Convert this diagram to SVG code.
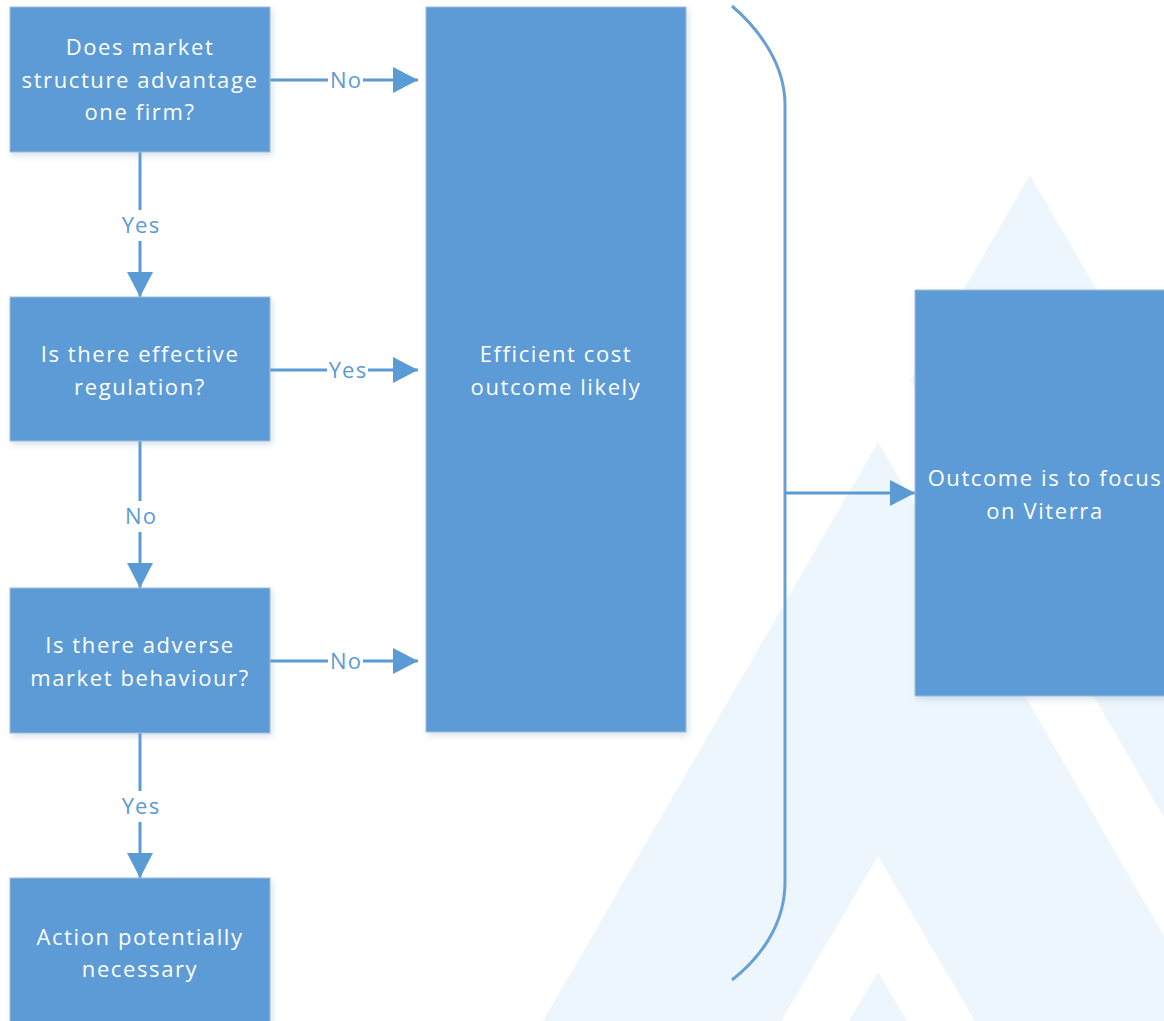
<svg xmlns="http://www.w3.org/2000/svg" width="1164" height="1021" viewBox="0 0 1164 1021">
  <style>
    .box { fill: #5B9BD5; stroke: #A3BDD8; stroke-width: 1; filter: url(#shadow); }
    .txt { fill: #FFFFFF; font-family: "Open Sans", "Liberation Sans", sans-serif; font-size: 22px; letter-spacing: 1.6px; text-anchor: middle; }
    .lbl { fill: #5B9BD5; font-family: "Open Sans", "Liberation Sans", sans-serif; font-size: 22px; letter-spacing: 1.2px; text-anchor: middle; }
    .conn { stroke: #5B9BD5; stroke-width: 3; fill: none; }
    .brace { stroke: #6A9FD4; stroke-width: 3; fill: none; }
    .gap { fill: #FFFFFF; }
    .wm { fill: #ECF6FC; }
    .wmw { fill: #FFFFFF; }
  </style>
  <defs>
    <filter id="shadow" x="-10%" y="-10%" width="125%" height="125%">
      <feDropShadow dx="2" dy="3" stdDeviation="3" flood-color="#7A9CC0" flood-opacity="0.3"/>
    </filter>
    <marker id="arrow" markerUnits="userSpaceOnUse" markerWidth="26" markerHeight="26" viewBox="0 0 26 26" refX="25" refY="13" orient="auto">
      <path d="M0,0 L25,13 L0,26 Z" fill="#5B9BD5"/>
    </marker>
  </defs>

  <rect width="1164" height="1021" fill="#FFFFFF"/>

  <g id="watermark">
    <polygon class="wm" points="1030,175 1521,1021 539,1021"/>
    <polygon class="wmw" points="911,381 1290,1035 300,1035"/>
    <polygon class="wm" points="878,442 1213,1021 543,1021"/>
    <polygon class="wmw" points="878,856 975,1021 781,1021"/>
    <polygon class="wm" points="878,972 907,1021 849,1021"/>
  </g>

  <g id="connectors">
    <line class="conn" x1="270" y1="80" x2="418" y2="80" marker-end="url(#arrow)"/>
    <line class="conn" x1="140" y1="152" x2="140" y2="297" marker-end="url(#arrow)"/>
    <line class="conn" x1="270" y1="370" x2="418" y2="370" marker-end="url(#arrow)"/>
    <line class="conn" x1="140" y1="441" x2="140" y2="588" marker-end="url(#arrow)"/>
    <line class="conn" x1="270" y1="661" x2="418" y2="661" marker-end="url(#arrow)"/>
    <line class="conn" x1="140" y1="733" x2="140" y2="878" marker-end="url(#arrow)"/>
    <path class="brace" d="M732,6 C760,30 785,65 785,105 L785,882 C785,925 760,958 732,980"/>
    <line class="conn" x1="785" y1="493" x2="915" y2="493" marker-end="url(#arrow)"/>

    <rect class="gap" x="328" y="68" width="35" height="24"/>
    <text class="lbl" x="346" y="88">No</text>
    <rect class="gap" x="120" y="210" width="40" height="31"/>
    <text class="lbl" x="141" y="233">Yes</text>
    <rect class="gap" x="327" y="358" width="41" height="24"/>
    <text class="lbl" x="348" y="378">Yes</text>
    <rect class="gap" x="120" y="501" width="40" height="31"/>
    <text class="lbl" x="141" y="524">No</text>
    <rect class="gap" x="328" y="649" width="35" height="24"/>
    <text class="lbl" x="346" y="669">No</text>
    <rect class="gap" x="120" y="791" width="40" height="31"/>
    <text class="lbl" x="141" y="814">Yes</text>
  </g>

  <g id="node-market-structure">
    <rect class="box" x="10" y="7" width="260" height="145"/>
    <text class="txt" x="140" y="55">Does market</text>
    <text class="txt" x="140" y="88">structure advantage</text>
    <text class="txt" x="140" y="120">one firm?</text>
  </g>

  <g id="node-regulation">
    <rect class="box" x="10" y="297" width="260" height="144"/>
    <text class="txt" x="140" y="362">Is there effective</text>
    <text class="txt" x="140" y="395">regulation?</text>
  </g>

  <g id="node-adverse">
    <rect class="box" x="10" y="588" width="260" height="145"/>
    <text class="txt" x="140" y="653">Is there adverse</text>
    <text class="txt" x="140" y="686">market behaviour?</text>
  </g>

  <g id="node-action">
    <rect class="box" x="10" y="878" width="260" height="160"/>
    <text class="txt" x="140" y="945">Action potentially</text>
    <text class="txt" x="140" y="977">necessary</text>
  </g>

  <g id="node-efficient">
    <rect class="box" x="426" y="7" width="260" height="725"/>
    <text class="txt" x="556" y="362">Efficient cost</text>
    <text class="txt" x="556" y="395">outcome likely</text>
  </g>

  <g id="node-outcome">
    <rect class="box" x="915" y="290" width="260" height="406"/>
    <text class="txt" x="1045" y="486">Outcome is to focus</text>
    <text class="txt" x="1045" y="519">on Viterra</text>
  </g>
</svg>
